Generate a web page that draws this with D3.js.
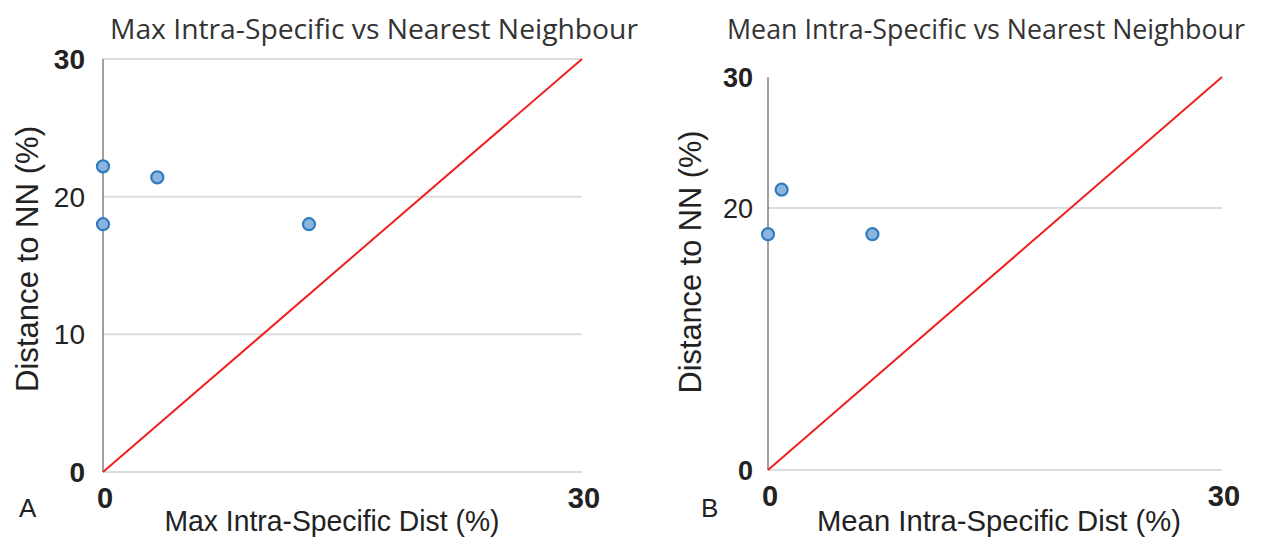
<!DOCTYPE html>
<html>
<head>
<meta charset="utf-8">
<script src="https://cdn.jsdelivr.net/npm/d3@7"></script>
<style>
  body { margin: 0; background: #fff; }
  svg { display: block; }
  .title { font-family: "Open Sans", sans-serif; fill: #333; }
  .lab { font-family: "Liberation Sans", Arial, sans-serif; fill: #222; }
</style>
</head>
<body>
<svg id="chart" width="1261" height="538"></svg>
<script>
// Panel A: max intra-specific distance vs distance to nearest neighbour
const maxIntra = [0, 0, 3.4, 12.9];
const maxNN = [22.2, 18.0, 21.4, 18.0];
// Panel B: mean intra-specific distance vs distance to nearest neighbour
const meanIntra = [0, 0.9, 6.9];
const meanNN = [18.0, 21.4, 18.0];

const domain = [0, 30];
const gridA = [0, 10, 20, 30];
const gridB = [0, 20];
const boldTicks = [0, 30];

const svg = d3.select('#chart');

function drawPanel(p) {
  const x = d3.scaleLinear().domain(domain).range([p.x0, p.x1]);
  const y = d3.scaleLinear().domain(domain).range([p.y0, p.y1]);
  const g = svg.append('g');

  // gridlines
  g.selectAll('line.grid').data(p.grid).enter().append('line')
    .attr('x1', x(0)).attr('x2', x(30))
    .attr('y1', d => y(d)).attr('y2', d => y(d))
    .attr('stroke', '#dcdcdc').attr('stroke-width', 2);

  // y axis line
  g.append('line')
    .attr('x1', x(0)).attr('x2', x(0))
    .attr('y1', y(0)).attr('y2', y(30))
    .attr('stroke', '#404040').attr('stroke-width', 1);

  // y tick labels
  g.selectAll('text.yt').data(p.yTicks).enter().append('text')
    .attr('class', 'lab')
    .attr('x', x(0) - p.tickGap)
    .attr('y', d => y(d))
    .attr('dy', '0.36em')
    .attr('text-anchor', 'end')
    .style('font-size', p.tickSize + 'px')
    .style('font-weight', d => boldTicks.includes(d) ? 'bold' : 'normal')
    .text(d => d);

  // x tick labels
  g.selectAll('text.xt').data(boldTicks).enter().append('text')
    .attr('class', 'lab')
    .attr('x', d => x(d) + 2)
    .attr('y', y(0) + 36)
    .attr('text-anchor', 'middle')
    .style('font-size', '29px')
    .style('font-weight', 'bold')
    .text(d => d);

  // 1:1 line
  g.append('line')
    .attr('x1', x(0)).attr('y1', y(0))
    .attr('x2', x(30)).attr('y2', y(30))
    .attr('stroke', '#f02020').attr('stroke-width', 2);

  // points
  g.selectAll('circle').data(p.xs).enter().append('circle')
    .attr('cx', d => x(d))
    .attr('cy', (d, i) => y(p.ys[i]))
    .attr('r', 6)
    .attr('fill', '#8db4de')
    .attr('stroke', '#2f7bc0')
    .attr('stroke-width', 2.2);

  // titles
  g.append('text').attr('class', 'title')
    .attr('x', p.titleX).attr('y', 39)
    .attr('text-anchor', 'middle')
    .style('font-size', p.titleSize + 'px')
    .attr('textLength', p.titleLen).attr('lengthAdjust', 'spacingAndGlyphs')
    .text(p.title);

  g.append('text').attr('class', 'lab')
    .attr('transform', `translate(${p.yTitleX},${p.yTitleY}) rotate(-90)`)
    .attr('text-anchor', 'middle')
    .attr('textLength', p.yTitleLen).attr('lengthAdjust', 'spacingAndGlyphs')
    .style('font-size', '31px')
    .text('Distance to NN (%)');

  g.append('text').attr('class', 'lab')
    .attr('x', p.xTitleX).attr('y', 531)
    .attr('text-anchor', 'middle')
    .attr('textLength', p.xTitleLen).attr('lengthAdjust', 'spacingAndGlyphs')
    .style('font-size', '30px')
    .text(p.xTitle);

  g.append('text').attr('class', 'lab')
    .attr('x', p.letterX).attr('y', 517)
    .style('font-size', '26px')
    .text(p.letter);
}

drawPanel({
  x0: 103, x1: 582, y0: 472, y1: 59,
  xs: maxIntra, ys: maxNN,
  grid: gridA, yTicks: gridA, tickGap: 18, tickSize: 28,
  title: 'Max Intra-Specific vs Nearest Neighbour', titleX: 374, titleLen: 528, titleSize: 28,
  xTitle: 'Max Intra-Specific Dist (%)', xTitleX: 332, xTitleLen: 335,
  yTitleX: 38, yTitleY: 259, yTitleLen: 266,
  letter: 'A', letterX: 19
});

drawPanel({
  x0: 768, x1: 1222, y0: 470, y1: 77,
  xs: meanIntra, ys: meanNN,
  grid: gridB, yTicks: [0, 20, 30], tickGap: 15, tickSize: 27,
  title: 'Mean Intra-Specific vs Nearest Neighbour', titleX: 986, titleLen: 518, titleSize: 27,
  xTitle: 'Mean Intra-Specific Dist (%)', xTitleX: 999, xTitleLen: 364,
  yTitleX: 701, yTitleY: 262, yTitleLen: 263,
  letter: 'B', letterX: 701
});
</script>
</body>
</html>
